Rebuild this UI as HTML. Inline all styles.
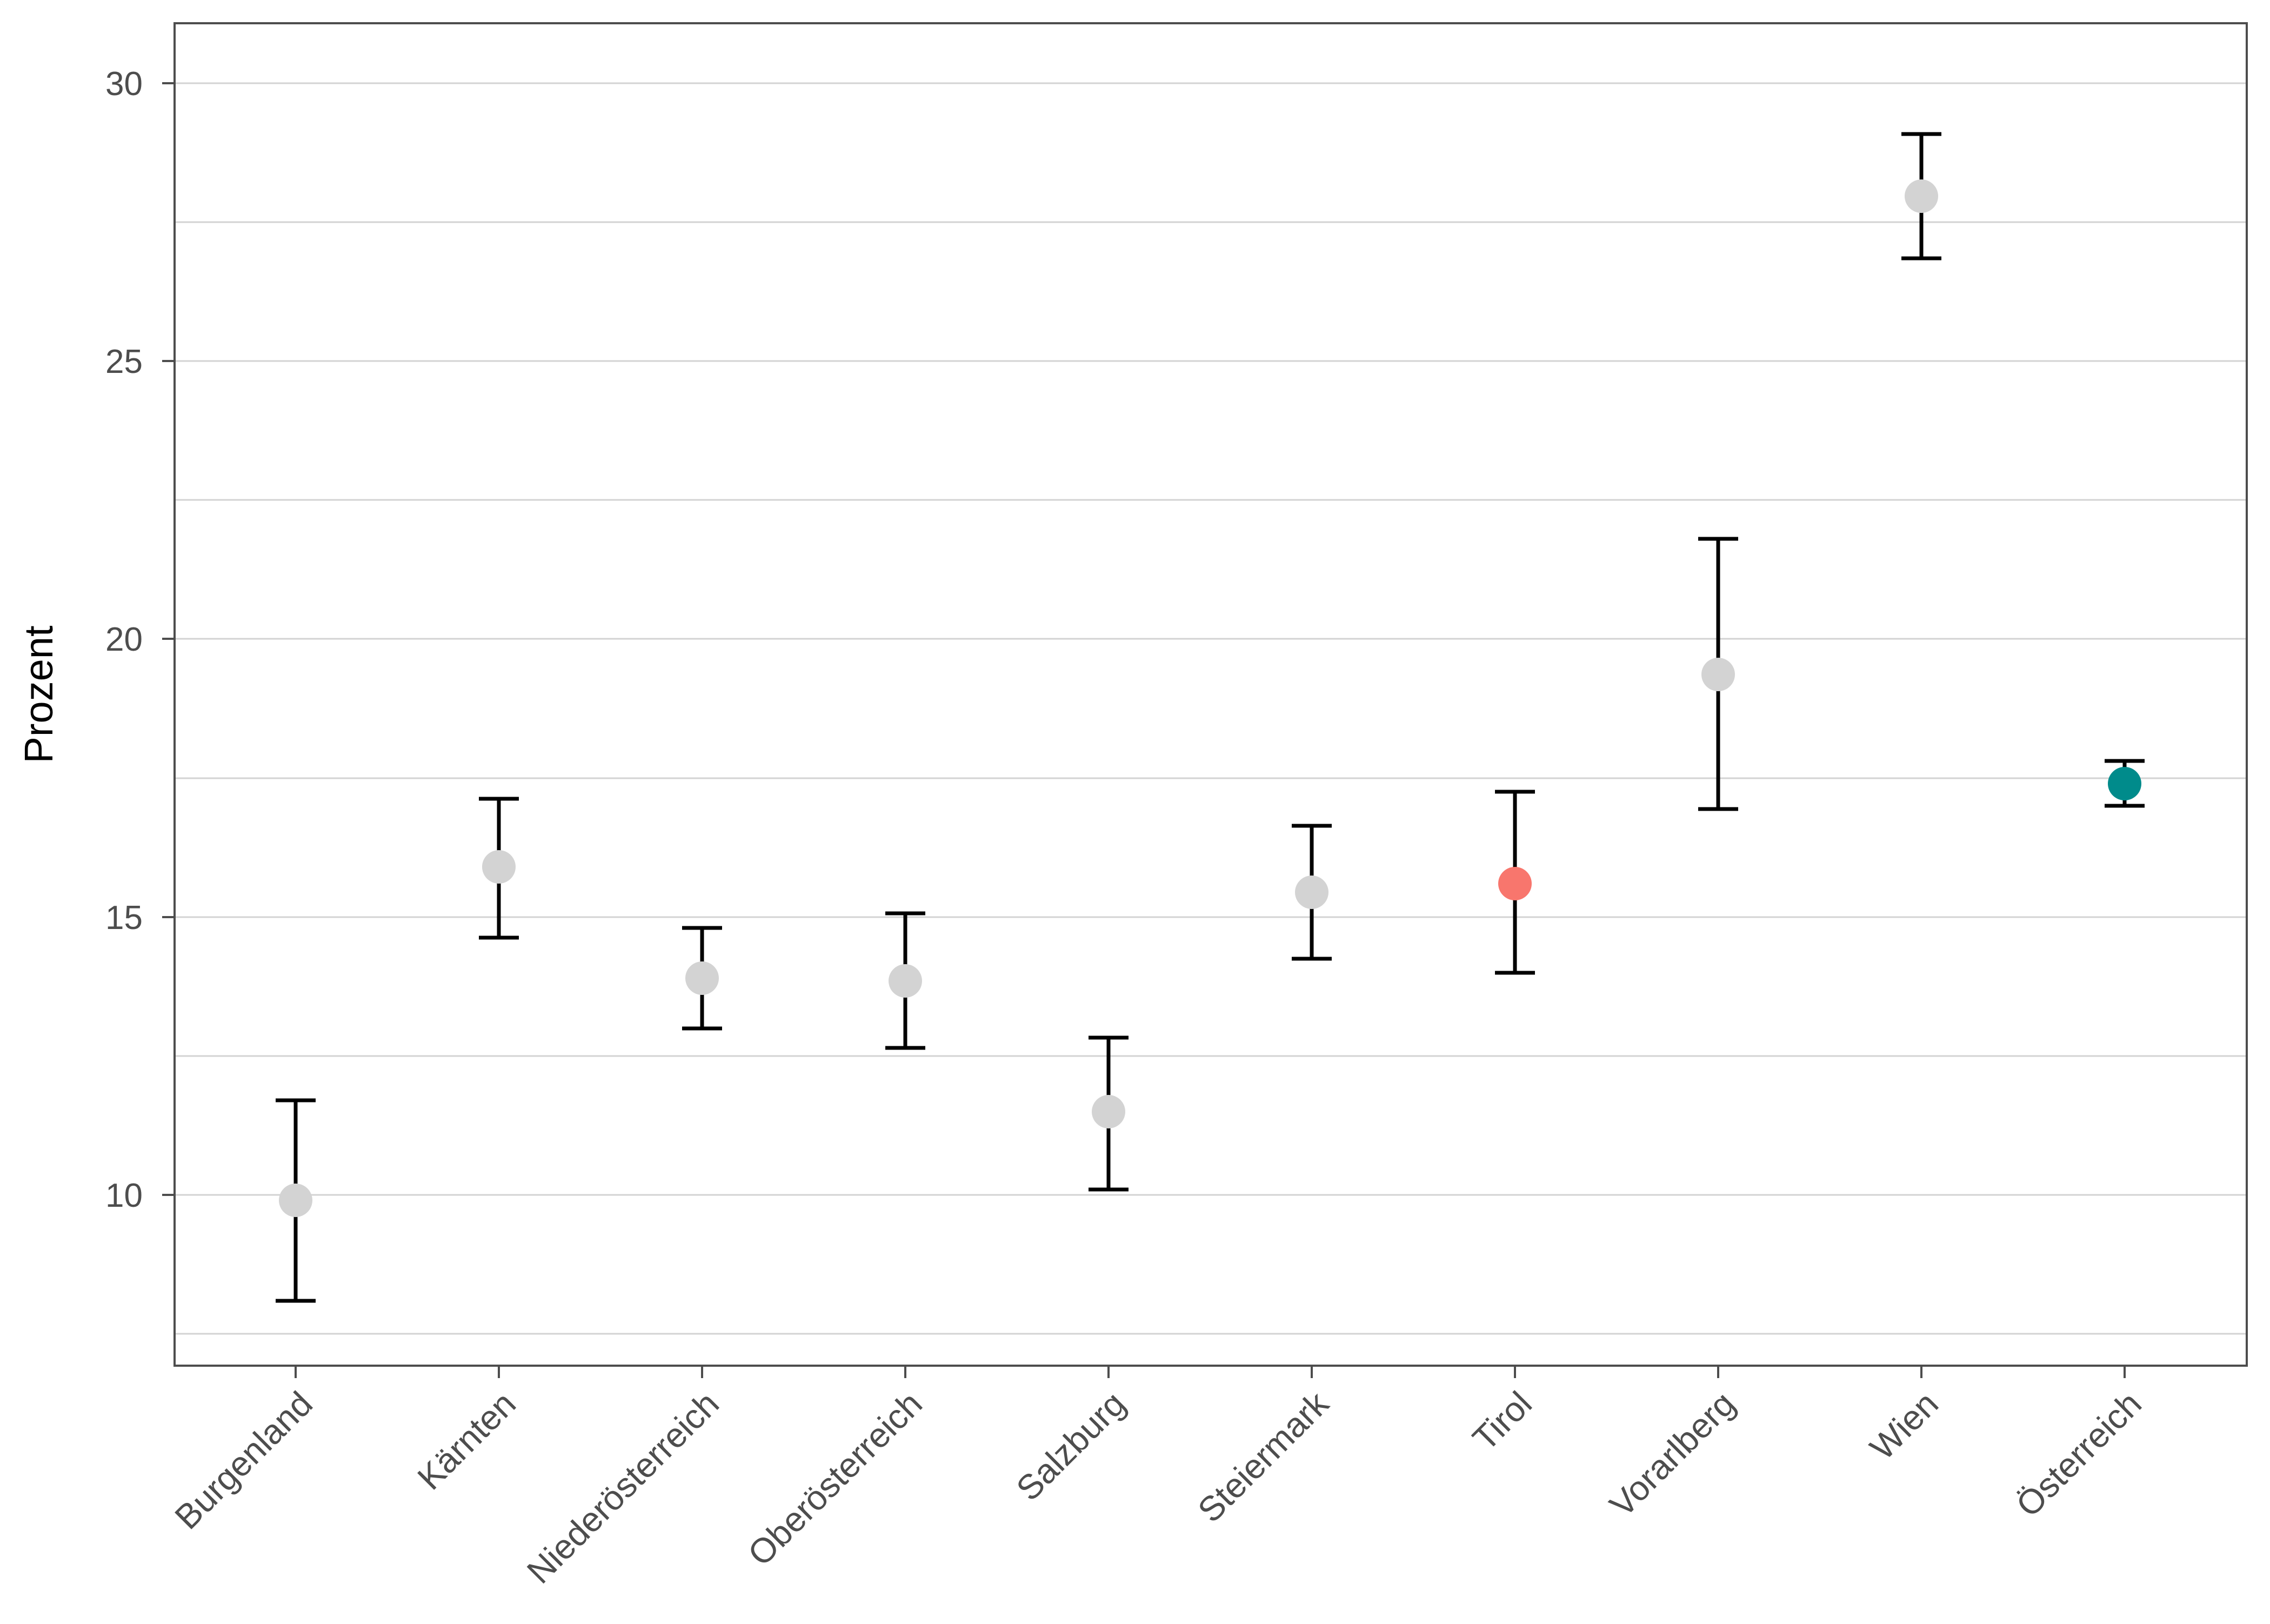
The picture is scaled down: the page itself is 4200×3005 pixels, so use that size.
<!DOCTYPE html>
<html><head><meta charset="utf-8"><style>html,body{margin:0;padding:0;background:#fff}</style></head>
<body>
<svg width="4200" height="3000" viewBox="0 0 4200 3000" xmlns="http://www.w3.org/2000/svg" font-family="Liberation Sans, sans-serif">
<rect width="4200" height="3000" fill="#fff"/>
<g stroke="#d3d3d3" stroke-width="3">
<line x1="323" x2="4157" y1="2468" y2="2468"/>
<line x1="323" x2="4157" y1="2211" y2="2211"/>
<line x1="323" x2="4157" y1="1954" y2="1954"/>
<line x1="323" x2="4157" y1="1697" y2="1697"/>
<line x1="323" x2="4157" y1="1440" y2="1440"/>
<line x1="323" x2="4157" y1="1182" y2="1182"/>
<line x1="323" x2="4157" y1="925" y2="925"/>
<line x1="323" x2="4157" y1="668" y2="668"/>
<line x1="323" x2="4157" y1="411" y2="411"/>
<line x1="323" x2="4157" y1="154" y2="154"/>
</g>
<g stroke="#000" stroke-width="7" fill="none">
<path d="M547 2407V2036M510 2407H584M510 2036H584"/>
<path d="M923 1735V1478M886 1735H960M886 1478H960"/>
<path d="M1299 1903V1717M1262 1903H1336M1262 1717H1336"/>
<path d="M1675 1939V1690M1638 1939H1712M1638 1690H1712"/>
<path d="M2051 2201V1920M2014 2201H2088M2014 1920H2088"/>
<path d="M2427 1774V1528M2390 1774H2464M2390 1528H2464"/>
<path d="M2803 1800V1465M2766 1800H2840M2766 1465H2840"/>
<path d="M3179 1497V997M3142 1497H3216M3142 997H3216"/>
<path d="M3555 478V248M3518 478H3592M3518 248H3592"/>
<path d="M3931 1491V1408M3894 1491H3968M3894 1408H3968"/>
</g>
<g fill="#d3d3d3">
<circle cx="547" cy="2221" r="31"/>
<circle cx="923" cy="1604" r="31"/>
<circle cx="1299" cy="1810" r="31"/>
<circle cx="1675" cy="1815" r="31"/>
<circle cx="2051" cy="2057" r="31"/>
<circle cx="2427" cy="1651" r="31"/>
<circle cx="3179" cy="1248" r="31"/>
<circle cx="3555" cy="363" r="31"/>
</g>
<circle cx="2803" cy="1635" r="31" fill="#F8766D"/>
<circle cx="3931" cy="1450" r="31" fill="#008B8B"/>
<rect x="323" y="43" width="3834" height="2484" fill="none" stroke="#4d4d4d" stroke-width="4"/>
<g stroke="#4d4d4d" stroke-width="4">
<line x1="300" x2="323" y1="2211" y2="2211"/>
<line x1="300" x2="323" y1="1697" y2="1697"/>
<line x1="300" x2="323" y1="1182" y2="1182"/>
<line x1="300" x2="323" y1="668" y2="668"/>
<line x1="300" x2="323" y1="154" y2="154"/>
<path d="M547 2527v23M923 2527v23M1299 2527v23M1675 2527v23M2051 2527v23M2427 2527v23M2803 2527v23M3179 2527v23M3555 2527v23M3931 2527v23"/>
</g>
<g fill="#4d4d4d" font-size="62" text-anchor="end">
<text x="264" y="2233">10</text>
<text x="264" y="1719">15</text>
<text x="264" y="1204">20</text>
<text x="264" y="690">25</text>
<text x="264" y="176">30</text>
</g>
<text transform="translate(97,1285) rotate(-90)" font-size="74" text-anchor="middle" fill="#000">Prozent</text>
<g fill="#4d4d4d" font-size="64" text-anchor="end">
<text transform="translate(582,2602) rotate(-45)">Burgenland</text>
<text transform="translate(958,2602) rotate(-45)">Kärnten</text>
<text transform="translate(1334,2602) rotate(-45)">Niederösterreich</text>
<text transform="translate(1710,2602) rotate(-45)">Oberösterreich</text>
<text transform="translate(2086,2602) rotate(-45)">Salzburg</text>
<text transform="translate(2462,2602) rotate(-45)">Steiermark</text>
<text transform="translate(2838,2602) rotate(-45)">Tirol</text>
<text transform="translate(3214,2602) rotate(-45)">Vorarlberg</text>
<text transform="translate(3590,2602) rotate(-45)">Wien</text>
<text transform="translate(3966,2602) rotate(-45)">Österreich</text>
</g>
</svg>
</body></html>
